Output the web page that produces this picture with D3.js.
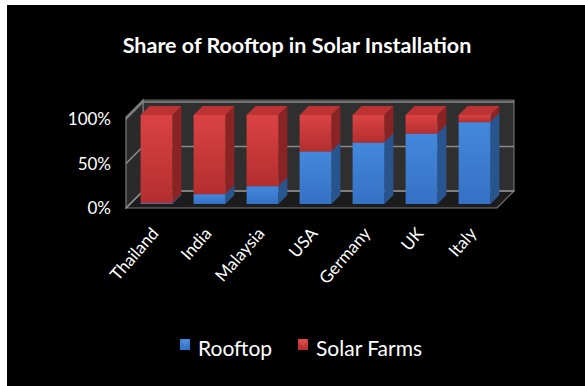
<!DOCTYPE html>
<html>
<head>
<meta charset="utf-8">
<script src="https://cdn.jsdelivr.net/npm/d3@7"></script>
<style>
  html, body { margin: 0; padding: 0; background: #fff; }
  svg { display: block; }
</style>
</head>
<body>
<svg id="chart" width="585" height="386"></svg>
<script>
// Share of rooftop vs. utility-scale solar, per country (percent)
const categories = ["Thailand", "India", "Malaysia", "USA", "Germany", "UK", "Italy"];
const rooftop = [1, 11, 20, 59, 69, 79, 92];
const solarFarms = [99, 89, 80, 41, 31, 21, 8];
const seriesNames = ["Rooftop", "Solar Farms"];
const tickValues = [0, 50, 100];
const tickLabels = ["0%", "50%", "100%"];

const svg = d3.select("#chart");
svg.append("rect").attr("x", 7).attr("y", 5).attr("width", 578).attr("height", 381).attr("fill", "#000");

// colours for the 3D faces
const pal = {
  Rooftop: { front0: "#4388dc", front1: "#3571c4", side: "#29558f", top: "#3a78c9" },
  "Solar Farms": { front0: "#db4343", front1: "#b42e2e", side: "#8a2424", top: "#bd3232" }
};

const defs = svg.append("defs");
Object.entries(pal).forEach(([k, c], i) => {
  const g = defs.append("linearGradient").attr("id", "g" + i).attr("x1", 0).attr("y1", 0).attr("x2", 0).attr("y2", 1);
  g.append("stop").attr("offset", "0%").attr("stop-color", c.front0);
  g.append("stop").attr("offset", "100%").attr("stop-color", c.front1);
});

// plot box: front plane and depth offset
const front = { left: 126, right: 497, bottom: 208 };
const depth = { dx: 17, dy: -17 };
// value scale on the back wall
const yBack = d3.scaleLinear().domain([0, 100]).range([191, 102]);
const wallTop = 100;

// floor
const P = (pts) => "M" + pts.map(p => p.join(",")).join("L") + "Z";
svg.append("path")
  .attr("d", P([[front.left, front.bottom], [front.right, front.bottom],
    [front.right + depth.dx, front.bottom + depth.dy], [front.left + depth.dx, front.bottom + depth.dy]]))
  .attr("fill", "#1c1c1c").attr("stroke", "#7a7a7a").attr("stroke-width", 1.2);
// back wall
const bx0 = front.left + depth.dx, bx1 = front.right + depth.dx;
svg.append("path")
  .attr("d", P([[bx0, yBack(0)], [bx1, yBack(0)], [bx1, wallTop], [bx0, wallTop]]))
  .attr("fill", "#2f2f2f").attr("stroke", "#6e6e6e").attr("stroke-width", 1.2);
// side wall
svg.append("path")
  .attr("d", P([[front.left, front.bottom], [bx0, yBack(0)], [bx0, wallTop], [front.left, wallTop - depth.dy]]))
  .attr("fill", "#2a2a2a").attr("stroke", "#7a7a7a").attr("stroke-width", 1.2);

// gridlines on back and side walls
const grid = svg.append("g").attr("stroke", "#8a8a8a").attr("stroke-width", 1.6).attr("fill", "none");
tickValues.forEach(v => {
  grid.append("path").attr("d", P([[front.left, yBack(v) - depth.dy], [bx0, yBack(v)], [bx1, yBack(v)]]).replace("Z", ""));
});

// value axis labels on the front plane
svg.append("g").selectAll("text").data(tickValues).join("text")
  .attr("x", 111).attr("y", d => yBack(d) - depth.dy + 6)
  .attr("text-anchor", "end").attr("fill", "#fff")
  .attr("font-family", "Lato, 'Open Sans', sans-serif").attr("font-size", 17)
  .text((d, i) => tickLabels[i]);

// bars sit slightly behind the front plane
const barOff = 4, barDepth = 9;
const x = d3.scaleBand().domain(categories)
  .range([front.left + barOff, front.right + barOff]).paddingInner(0.4).paddingOuter(0.2);
const yBar = v => yBack(v) - depth.dy - barOff;

const stackData = categories.map((c, i) => ({ cat: c, Rooftop: rooftop[i], "Solar Farms": solarFarms[i] }));
const stacked = d3.stack().keys(seriesNames)(stackData);

const bars = svg.append("g");
categories.forEach((cat, ci) => {
  stacked.forEach((layer, si) => {
    const [v0, v1] = layer[ci];
    if (v1 - v0 <= 0) return;
    const c = pal[layer.key];
    const x0 = x(cat), w = x.bandwidth();
    const yt = yBar(v1), yb = yBar(v0);
    const g = bars.append("g");
    // side face
    g.append("path").attr("d", P([[x0 + w, yb], [x0 + w + barDepth, yb - barDepth], [x0 + w + barDepth, yt - barDepth], [x0 + w, yt]]))
      .attr("fill", c.side);
    // top face
    g.append("path").attr("d", P([[x0, yt], [x0 + w, yt], [x0 + w + barDepth, yt - barDepth], [x0 + barDepth, yt - barDepth]]))
      .attr("fill", c.top);
    // front face
    g.append("rect").attr("x", x0).attr("y", yt).attr("width", w).attr("height", yb - yt)
      .attr("fill", `url(#g${si})`);
  });
});

// category labels, rotated
svg.append("g").selectAll("text").data(categories).join("text")
  .attr("transform", d => `translate(${x(d) + x.bandwidth() / 2 + 3},${234}) rotate(-49)`)
  .attr("text-anchor", "end").attr("fill", "#fff")
  .attr("font-family", "Lato, 'Open Sans', sans-serif").attr("font-size", 17)
  .text(d => d);

// title
svg.append("text").attr("x", 297).attr("y", 53).attr("text-anchor", "middle")
  .attr("fill", "#fff").attr("font-family", "Lato, 'Open Sans', sans-serif")
  .attr("font-weight", "bold").attr("font-size", 21.5)
  .text("Share of Rooftop in Solar Installation");

// legend
const legend = svg.append("g");
const legendPos = [{ sx: 180, tx: 198 }, { sx: 298, tx: 316 }];
seriesNames.forEach((name, i) => {
  const c = pal[name];
  legend.append("rect").attr("x", legendPos[i].sx).attr("y", 339).attr("width", 10).attr("height", 11)
    .attr("fill", `url(#g${i})`);
  legend.append("path").attr("d", `M${legendPos[i].sx + 2},341L${legendPos[i].sx + 8},341L${legendPos[i].sx + 5},345Z`)
    .attr("fill", c.front0).attr("opacity", 0.8).attr("stroke", "#fff").attr("stroke-opacity", 0.3).attr("stroke-width", 0.5);
  legend.append("text").attr("x", legendPos[i].tx).attr("y", 356)
    .attr("fill", "#fff").attr("font-family", "Lato, 'Open Sans', sans-serif").attr("font-size", 21)
    .text(name);
});
</script>
</body>
</html>
